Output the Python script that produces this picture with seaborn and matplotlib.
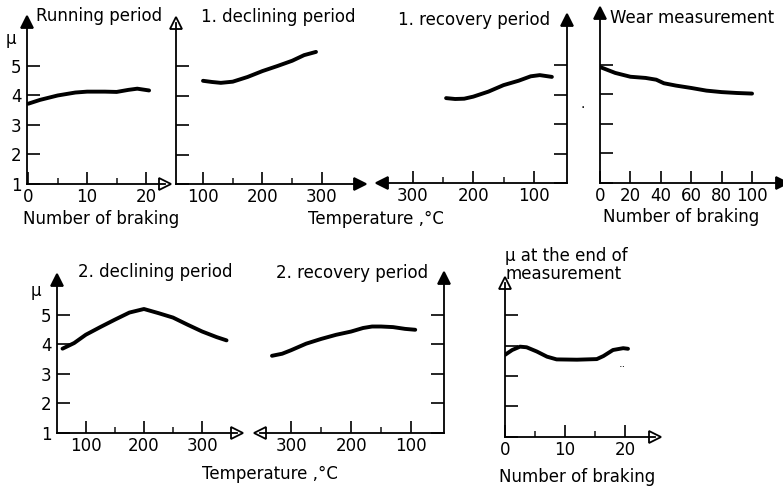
import matplotlib
matplotlib.use("Agg")
import matplotlib.pyplot as plt
import seaborn as sns
import pandas as pd

sns.set_style("white")
plt.rcParams['font.family'] = ['DejaVu Sans']

W, H = 783, 490

# ---------------- data ----------------
run_x = [0, 2, 5, 8, 10, 13, 15, 17, 18.5, 20.5]
run_mu = [3.72, 3.85, 4.0, 4.1, 4.13, 4.13, 4.12, 4.19, 4.23, 4.17]

dec1_t = [100, 115, 130, 150, 175, 200, 225, 250, 270, 290]
dec1_mu = [4.5, 4.46, 4.43, 4.47, 4.63, 4.83, 5.0, 5.18, 5.37, 5.48]

rec1_t = [245, 230, 215, 200, 175, 150, 125, 105, 90, 70]
rec1_mu = [3.88, 3.85, 3.86, 3.93, 4.1, 4.32, 4.47, 4.62, 4.66, 4.6]

wear_x = [0, 5, 10, 20, 30, 37, 42, 50, 60, 70, 80, 90, 100]
wear_mu = [4.93, 4.83, 4.73, 4.6, 4.56, 4.5, 4.38, 4.3, 4.22, 4.13, 4.08, 4.05, 4.03]

dec2_t = [60, 80, 100, 125, 150, 175, 200, 225, 250, 275, 300, 325, 342]
dec2_mu = [3.85, 4.04, 4.32, 4.58, 4.83, 5.07, 5.19, 5.05, 4.9, 4.66, 4.43, 4.24, 4.13]

rec2_t = [332, 315, 300, 275, 250, 225, 200, 180, 165, 150, 130, 110, 93]
rec2_mu = [3.61, 3.68, 3.8, 4.02, 4.18, 4.32, 4.43, 4.55, 4.6, 4.6, 4.58, 4.52, 4.49]

end_x = [0, 1.2, 2.5, 3.6, 5.3, 7, 8.6, 12, 15.3, 16.4, 18, 19.7, 20.5]
end_mu = [3.7, 3.86, 3.97, 3.95, 3.81, 3.64, 3.55, 3.54, 3.56, 3.66, 3.86, 3.92, 3.9]

mu_ticks = [1, 2, 3, 4, 5]
brake20_major = [0, 10, 20]
brake20_minor = [5, 15]
temp_major = [100, 200, 300]
temp_minor = [150, 250]
brake100_major = [0, 20, 40, 60, 80, 100]

fig = plt.figure(figsize=(W / 100, H / 100), dpi=100)


def fpt(x, y):
    return x / W, 1 - y / H


def make_ax(l, r, b, t, xlim, ylim, reverse=False):
    ax = fig.add_axes([l / W, (H - b) / H, (r - l) / W, (b - t) / H])
    ax.set_xlim(*xlim)
    ax.set_ylim(*ylim)
    for s in ax.spines.values():
        s.set_visible(False)
    side = 'right' if reverse else 'left'
    ax.spines['bottom'].set_visible(True)
    ax.spines[side].set_visible(True)
    for s in ['bottom', side]:
        ax.spines[s].set_linewidth(1.3)
        ax.spines[s].set_color('black')
    if reverse:
        ax.yaxis.tick_right()
        ax.tick_params(axis='y', left=False, right=True)
    else:
        ax.tick_params(axis='y', left=True, right=False)
    ax.tick_params(axis='x', which='both', bottom=True, top=False)
    ax.tick_params(direction='in', colors='black', width=1.2, labelsize=12)
    ax.tick_params(axis='y', length=9.5, pad=4)
    ax.tick_params(axis='x', which='major', length=8.5, pad=3)
    ax.tick_params(axis='x', which='minor', length=4.5, width=1.2, direction='in')
    ax.set_facecolor('none')
    return ax


def arrow(ax, x, y, m, filled=True):
    ax.plot([x], [y], marker=m, color='black', markersize=8,
            markerfacecolor='black' if filled else 'white', markeredgewidth=1.3,
            transform=ax.transAxes, clip_on=False)


def curve(ax, xs, ys):
    df = pd.DataFrame({'x': xs, 'y': ys})
    sns.lineplot(data=df, x='x', y='y', ax=ax, color='black', lw=2.8,
                 sort=False, solid_capstyle='round', solid_joinstyle='round')
    ax.set_xlabel('')
    ax.set_ylabel('')


# Panel 1: Running period
ax1 = make_ax(27, 165, 184, 22, (-0.2, 23.2), (1, 6.49))
curve(ax1, run_x, run_mu)
ax1.set_xticks(brake20_major)
ax1.set_xticks(brake20_minor, minor=True)
ax1.set_yticks(mu_ticks)
arrow(ax1, 1, 0, '>', filled=False)
arrow(ax1, 0, 1, '^')

# Panel 2: 1. declining period
ax2 = make_ax(176, 360, 184, 23, (54.6, 364), (1, 6.46))
curve(ax2, dec1_t, dec1_mu)
ax2.set_xticks(temp_major)
ax2.set_xticks(temp_minor, minor=True)
ax2.set_yticks(mu_ticks)
ax2.set_yticklabels([])
arrow(ax2, 1, 0, '>')
arrow(ax2, 0, 1, '^', filled=False)

# Panel 3: 1. recovery period (reversed)
ax3 = make_ax(382, 567, 183, 20, (351, 45), (1, 6.53), reverse=True)
curve(ax3, rec1_t, rec1_mu)
ax3.set_xticks(temp_major)
ax3.set_xticks(temp_minor, minor=True)
ax3.set_yticks(mu_ticks)
ax3.set_yticklabels([])
arrow(ax3, 0, 0, '<')
arrow(ax3, 1, 1, '^')

# Panel 4: Wear measurement
ax4 = make_ax(600, 782, 183, 13, (0, 119.7), (1, 6.76))
curve(ax4, wear_x, wear_mu)
ax4.set_xticks(brake100_major)
ax4.set_yticks(mu_ticks)
ax4.set_yticklabels([])
arrow(ax4, 1, 0, '>')
arrow(ax4, 0, 1, '^')

# Panel 5: 2. declining period
ax5 = make_ax(57, 237, 433, 280, (50.5, 360), (1, 6.17))
curve(ax5, dec2_t, dec2_mu)
ax5.set_xticks(temp_major)
ax5.set_xticks(temp_minor, minor=True)
ax5.set_yticks(mu_ticks)
arrow(ax5, 1, 0, '>', filled=False)
arrow(ax5, 0, 1, '^')

# Panel 6: 2. recovery period (reversed)
ax6 = make_ax(260, 444, 433, 278, (352, 45), (1, 6.24), reverse=True)
curve(ax6, rec2_t, rec2_mu)
ax6.set_xticks(temp_major)
ax6.set_xticks(temp_minor, minor=True)
ax6.set_yticks(mu_ticks)
ax6.set_yticklabels([])
arrow(ax6, 0, 0, '<', filled=False)
arrow(ax6, 1, 1, '^')

# Panel 7: mu at the end of measurement
ax7 = make_ax(505, 655, 436.7, 283, (0, 25), (1, 6.07))
curve(ax7, end_x, end_mu)
ax7.set_xticks(brake20_major)
ax7.set_xticks(brake20_minor, minor=True)
ax7.set_yticks(mu_ticks)
ax7.set_yticklabels([])
arrow(ax7, 1, 0, '>', filled=False)
arrow(ax7, 0, 1, '^', filled=False)

# ---------------- texts ----------------
fs = 12


def txt(x, y, s, ha='center', size=fs):
    fig.text(*fpt(x, y), s, ha=ha, va='center', fontsize=size, color='black')


txt(99, 16, 'Running period')
txt(278, 17, '1. declining period')
txt(474, 20, '1. recovery period')
txt(692, 18, 'Wear measurement')
txt(155, 272, '2. declining period')
txt(352, 273, '2. recovery period')
txt(505, 256, 'μ at the end of', ha='left')
txt(505, 274, 'measurement', ha='left')

txt(101, 219, 'Number of braking')
txt(376, 219, 'Temperature ,°C')
txt(681, 217, 'Number of braking')
txt(270, 474, 'Temperature ,°C')
txt(577, 477, 'Number of braking')

txt(11, 39, 'μ')
txt(36, 291, 'μ')

txt(583, 104, '.', size=10)
txt(622, 364, '..', size=8)

fig.savefig('out.png', dpi=100)
